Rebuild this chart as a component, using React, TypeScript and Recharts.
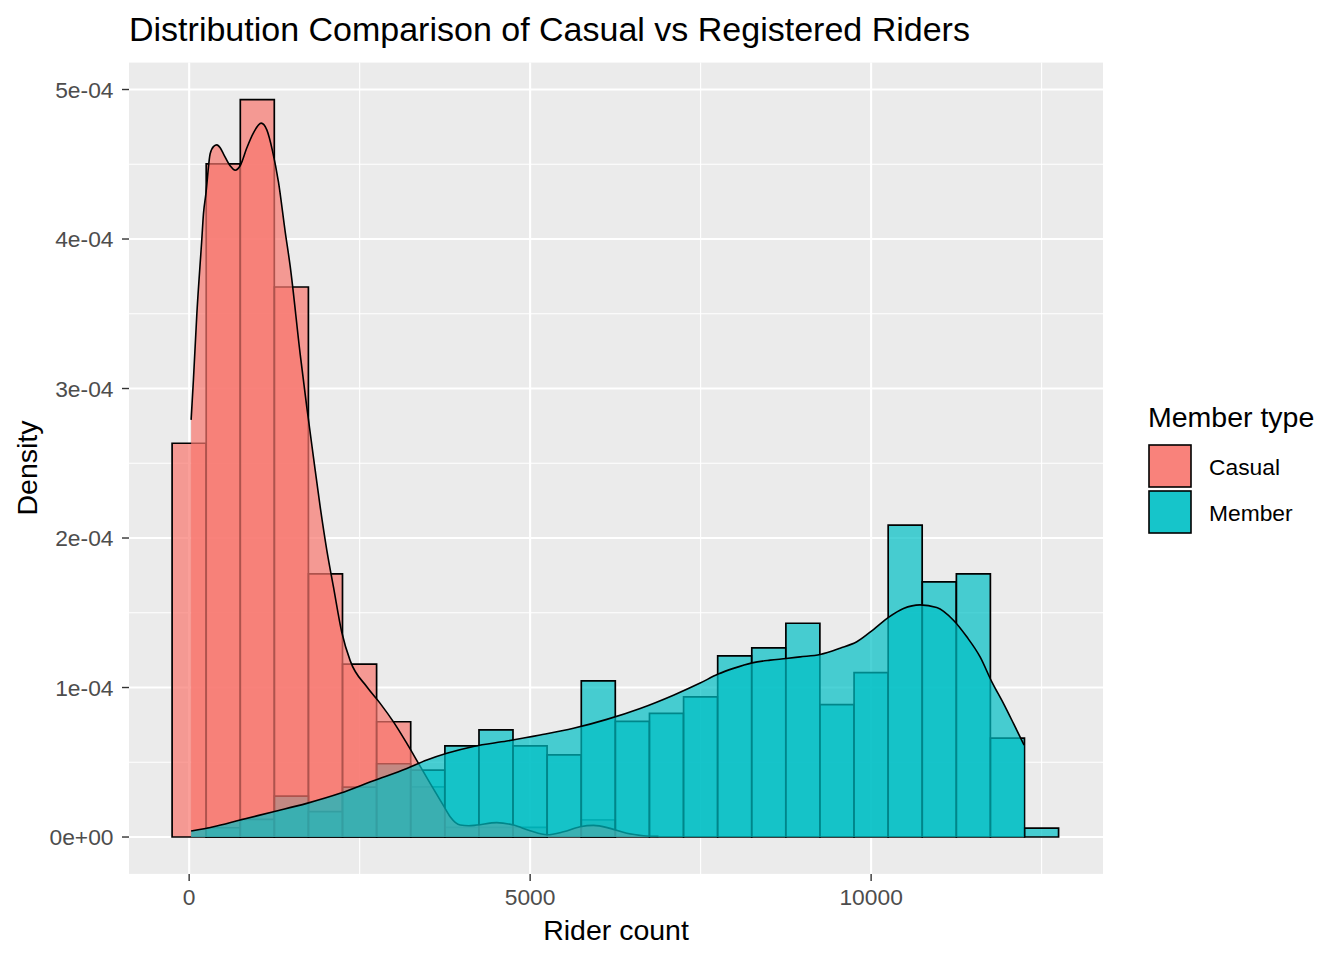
import { ComposedChart, Bar, Area, XAxis, YAxis, CartesianGrid } from 'recharts';

// histogram bins (bin centres, width 500)
const bins = [0, 500, 1000, 1500, 2000, 2500, 3000, 3500, 4000, 4500, 5000, 5500, 6000,
    6500, 7000, 7500, 8000, 8500, 9000, 9500, 10000, 10500, 11000, 11500, 12000, 12500];

const casualHist = [2.634e-4, 4.503e-4, 4.933e-4, 3.679e-4, 1.76e-4, 1.156e-4, 0.771e-4, 0.336e-4,
    0.065e-4, 0.065e-4, 0.065e-4, 0, 0.114e-4, 0, 0, 0, 0, 0, 0, 0, 0, 0, 0, 0, 0, 0];

const memberHist = [0, 0.062e-4, 0.118e-4, 0.274e-4, 0.17e-4, 0.334e-4, 0.49e-4, 0.448e-4,
    0.61e-4, 0.717e-4, 0.61e-4, 0.55e-4, 1.045e-4, 0.773e-4, 0.827e-4, 0.938e-4, 1.212e-4,
    1.265e-4, 1.43e-4, 0.885e-4, 1.10e-4, 2.086e-4, 1.707e-4, 1.76e-4, 0.662e-4, 0.06e-4];

// kernel density curves
const casualDensX = [29, 63, 113, 186, 210, 245, 308, 360, 406, 455, 503, 601, 674, 748, 846, 943,
    1056, 1139, 1222, 1310, 1408, 1481, 1628, 1725, 1823, 1921, 2019, 2116, 2238, 2361, 2605,
    2801, 2996, 3192, 3363, 3534, 3729, 3827, 3974, 4100, 4218, 4511, 4756, 5000, 5245, 5489,
    5733, 5929, 6173, 6418, 6662, 6882];
const casualDensY = [2.79e-4, 3.06e-4, 3.5e-4, 4.0e-4, 4.17e-4, 4.3e-4, 4.57e-4, 4.62e-4, 4.63e-4,
    4.61e-4, 4.57e-4, 4.49e-4, 4.46e-4, 4.49e-4, 4.61e-4, 4.71e-4, 4.775e-4, 4.73e-4, 4.59e-4,
    4.38e-4, 4.05e-4, 3.82e-4, 3.23e-4, 2.876e-4, 2.54e-4, 2.21e-4, 1.918e-4, 1.673e-4, 1.37e-4,
    1.18e-4, 1.005e-4, 0.894e-4, 0.77e-4, 0.626e-4, 0.493e-4, 0.359e-4, 0.21e-4, 0.136e-4,
    0.08e-4, 0.075e-4, 0.08e-4, 0.096e-4, 0.08e-4, 0.042e-4, 0.015e-4, 0.035e-4, 0.069e-4,
    0.078e-4, 0.058e-4, 0.025e-4, 0.009e-4, 0.004e-4];

const memberDensX = [29, 357, 748, 1236, 1725, 2214, 2703, 3192, 3485, 3778, 4169, 4658, 5147,
    5635, 6124, 6613, 7101, 7493, 7757, 7981, 8255, 8519, 8754, 8959, 9252, 9545, 9790, 10034,
    10254, 10474, 10718, 10962, 11207, 11403, 11598, 11770, 11940, 12087, 12243];
const memberDensY = [0.04e-4, 0.069e-4, 0.114e-4, 0.169e-4, 0.225e-4, 0.292e-4, 0.376e-4, 0.459e-4,
    0.515e-4, 0.56e-4, 0.606e-4, 0.642e-4, 0.682e-4, 0.727e-4, 0.787e-4, 0.86e-4, 0.949e-4,
    1.03e-4, 1.09e-4, 1.128e-4, 1.165e-4, 1.183e-4, 1.194e-4, 1.205e-4, 1.221e-4, 1.263e-4,
    1.306e-4, 1.388e-4, 1.469e-4, 1.529e-4, 1.553e-4, 1.535e-4, 1.45e-4, 1.339e-4, 1.205e-4,
    1.038e-4, 0.894e-4, 0.76e-4, 0.615e-4];

const xTicks = [0, 5000, 10000];
const xTickLabels = ['0', '5000', '10000'];
const xMinor = [2500, 7500, 12500];
const yTicks = [0, 1e-4, 2e-4, 3e-4, 4e-4, 5e-4];
const yTickLabels = ['0e+00', '1e-04', '2e-04', '3e-04', '4e-04', '5e-04'];
const yMinor = [0.5e-4, 1.5e-4, 2.5e-4, 3.5e-4, 4.5e-4];

const xDomain = [-882, 13400];
const yDomain = [-0.2467e-4, 5.18e-4];

const CASUAL = '#F8766D';
const MEMBER = '#00BFC4';
const FONT = '"Liberation Sans", Arial, sans-serif';

const histData = bins.map((b, i) => ({ bin: b, casual: casualHist[i], member: memberHist[i] }));
const casualDens = casualDensX.map((x, i) => ({ x, d: casualDensY[i] }));
const memberDens = memberDensX.map((x, i) => ({ x, d: memberDensY[i] }));

const tickStyle = { fill: '#4D4D4D', fontSize: 22.8, fontFamily: FONT };
const tickLineStyle = { stroke: '#333333', strokeWidth: 1.4 };

function App() {
    return (
        <div style={{ position: 'relative', width: 1344, height: 960, background: '#fff' }}>
            <style>{'body{margin:0}'}</style>
            <ComposedChart
                width={1344}
                height={960}
                data={histData}
                margin={{ top: 62.6, right: 241, bottom: 46.1, left: 0 }}
                barCategoryGap={0}
                barGap={0}
                style={{ fontFamily: FONT }}
            >
                <CartesianGrid xAxisId="a" fill="#EBEBEB" stroke="#FFFFFF" strokeWidth={1.1}
                    horizontalValues={yMinor} verticalValues={xMinor} />
                <CartesianGrid xAxisId="a" stroke="#FFFFFF" strokeWidth={2.1}
                    horizontalValues={yTicks} verticalValues={xTicks} />
                <XAxis xAxisId="a" dataKey="bin" type="number" domain={xDomain} allowDataOverflow
                    ticks={xTicks} interval={0} tickFormatter={(v, i) => xTickLabels[i]}
                    tick={tickStyle} tickLine={tickLineStyle} axisLine={false}
                    tickSize={7} tickMargin={8} height={40} />
                <XAxis xAxisId="b" dataKey="bin" type="number" domain={xDomain} allowDataOverflow hide />
                <XAxis xAxisId="c" dataKey="x" type="number" domain={xDomain} allowDataOverflow hide />
                <YAxis type="number" domain={yDomain} allowDataOverflow ticks={yTicks} interval={0}
                    tickFormatter={(v, i) => yTickLabels[i]} tick={tickStyle} tickLine={tickLineStyle}
                    axisLine={false} tickSize={7} tickMargin={8.5} width={129} />
                <Bar xAxisId="a" dataKey="casual" fill={CASUAL} fillOpacity={0.7} stroke="#000"
                    strokeWidth={1.7} isAnimationActive={false} zIndex={301} />
                <Bar xAxisId="b" dataKey="member" fill={MEMBER} fillOpacity={0.7} stroke="#000"
                    strokeWidth={1.7} isAnimationActive={false} zIndex={302} />
                <Area xAxisId="c" data={casualDens} dataKey="d" type="monotone" fill={CASUAL}
                    fillOpacity={0.7} stroke="#000" strokeWidth={1.6} dot={false} activeDot={false}
                    isAnimationActive={false} zIndex={303} />
                <Area xAxisId="c" data={memberDens} dataKey="d" type="monotone" fill={MEMBER}
                    fillOpacity={0.7} stroke="#000" strokeWidth={1.6} dot={false} activeDot={false}
                    isAnimationActive={false} zIndex={304} />
            </ComposedChart>

            <svg width={1344} height={960}
                style={{ position: 'absolute', left: 0, top: 0, pointerEvents: 'none', fontFamily: FONT }}>
                <text x={129} y={41} fontSize={34} fill="#000">
                    Distribution Comparison of Casual vs Registered Riders
                </text>
                <text x={616} y={940} fontSize={28.5} fill="#000" textAnchor="middle">Rider count</text>
                <text x={37} y={468} fontSize={28.5} fill="#000" textAnchor="middle"
                    transform="rotate(-90 37 468)">Density</text>

                <text x={1148} y={427} fontSize={28.5} fill="#000">Member type</text>
                <rect x={1149} y={445} width={42} height={42} fill={CASUAL} fillOpacity={0.7} />
                <rect x={1149} y={445} width={42} height={42} fill={CASUAL} fillOpacity={0.7}
                    stroke="#000" strokeWidth={1.6} />
                <rect x={1149} y={491} width={42} height={42} fill={MEMBER} fillOpacity={0.7} />
                <rect x={1149} y={491} width={42} height={42} fill={MEMBER} fillOpacity={0.7}
                    stroke="#000" strokeWidth={1.6} />
                <text x={1209} y={474.5} fontSize={22.8} fill="#000">Casual</text>
                <text x={1209} y={520.5} fontSize={22.8} fill="#000">Member</text>
            </svg>
        </div>
    );
}

export default App;
